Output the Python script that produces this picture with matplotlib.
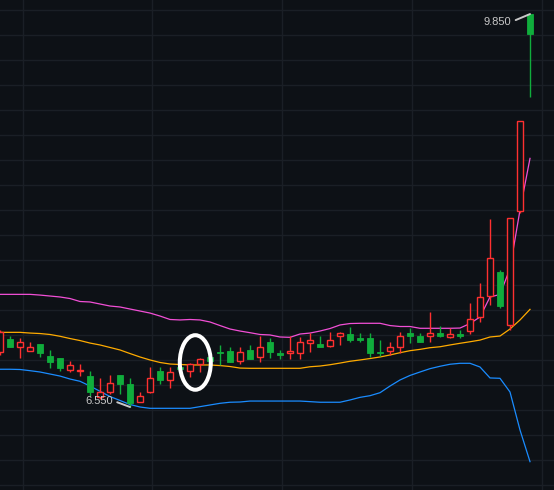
import matplotlib
matplotlib.use("Agg")
import matplotlib.pyplot as plt
from matplotlib.patches import Rectangle, Ellipse
import numpy as np

# ---- data ----
opens = [7.01, 7.12, 7.05, 7.02, 7.08, 6.98, 6.96, 6.86, 6.85, 6.81,
         6.63, 6.68, 6.82, 6.74, 6.59, 6.68, 6.85, 6.78, 6.89, 6.85,
         6.91, 6.97, 7.01, 7.02, 6.94, 7.03, 6.97, 7.10, 7.00, 7.00,
         7.00, 7.09, 7.08, 7.06, 7.15, 7.16, 7.13, 7.13, 7.01, 7.02,
         7.05, 7.17, 7.15, 7.15, 7.17, 7.14, 7.16, 7.19, 7.31, 7.48,
         7.68, 7.24, 8.20, 9.85]
closes = [7.18, 7.05, 7.10, 7.05, 7.00, 6.93, 6.88, 6.90, 6.86, 6.68,
          6.68, 6.75, 6.74, 6.58, 6.64, 6.79, 6.78, 6.84, 6.87, 6.91,
          6.95, 6.94, 7.00, 6.93, 7.01, 6.95, 7.05, 7.01, 6.99, 7.02,
          7.10, 7.11, 7.05, 7.11, 7.17, 7.11, 7.11, 7.00, 7.00, 7.05,
          7.15, 7.15, 7.10, 7.17, 7.15, 7.16, 7.15, 7.29, 7.47, 7.80,
          7.40, 8.14, 8.95, 9.68]
highs = [7.20, 7.15, 7.13, 7.10, 7.08, 7.03, 6.96, 6.94, 6.91, 6.85,
         6.79, 6.82, 6.82, 6.79, 6.68, 6.89, 6.89, 6.89, 6.90, 6.92,
         6.96, 6.97, 7.07, 7.05, 7.05, 7.07, 7.15, 7.13, 7.03, 7.15,
         7.14, 7.17, 7.15, 7.18, 7.18, 7.22, 7.17, 7.17, 7.11, 7.10,
         7.18, 7.21, 7.17, 7.35, 7.23, 7.21, 7.20, 7.42, 7.59, 8.13,
         7.70, 8.14, 8.95, 9.85]
lows = [6.99, 7.05, 6.96, 7.02, 6.97, 6.88, 6.85, 6.84, 6.81, 6.64,
        6.62, 6.66, 6.66, 6.55, 6.59, 6.67, 6.74, 6.71, 6.86, 6.80,
        6.84, 6.94, 6.90, 6.93, 6.91, 6.95, 6.93, 6.96, 6.95, 6.95,
        6.95, 7.01, 7.05, 7.05, 7.07, 7.10, 7.10, 6.97, 6.98, 6.99,
        7.00, 7.09, 7.10, 7.10, 7.14, 7.13, 7.13, 7.16, 7.26, 7.41,
        7.38, 7.20, 8.18, 9.15]

boll_upper = [7.496, 7.496, 7.496, 7.496, 7.490, 7.482, 7.474, 7.461, 7.436, 7.432,
              7.415, 7.398, 7.390, 7.373, 7.356, 7.339, 7.314, 7.285, 7.281, 7.285,
              7.281, 7.264, 7.234, 7.205, 7.188, 7.174, 7.159, 7.155, 7.138, 7.135,
              7.163, 7.171, 7.188, 7.209, 7.239, 7.251, 7.253, 7.253, 7.253, 7.234,
              7.226, 7.226, 7.211, 7.211, 7.211, 7.211, 7.213, 7.251, 7.306, 7.474,
              7.495, 7.713, 8.204, 8.638]
boll_mid = [7.177, 7.177, 7.177, 7.171, 7.167, 7.159, 7.144, 7.125, 7.108, 7.087,
            7.071, 7.050, 7.029, 6.999, 6.970, 6.945, 6.924, 6.911, 6.907, 6.903,
            6.903, 6.903, 6.898, 6.890, 6.877, 6.875, 6.875, 6.875, 6.875, 6.875,
            6.875, 6.888, 6.894, 6.905, 6.919, 6.934, 6.945, 6.957, 6.970, 6.987,
            7.006, 7.023, 7.034, 7.048, 7.056, 7.071, 7.085, 7.098, 7.112, 7.138,
            7.146, 7.205, 7.281, 7.370]
boll_lower = [6.867, 6.867, 6.865, 6.855, 6.844, 6.827, 6.810, 6.785, 6.766, 6.726,
              6.682, 6.638, 6.605, 6.571, 6.550, 6.539, 6.539, 6.539, 6.539, 6.539,
              6.553, 6.567, 6.581, 6.590, 6.592, 6.600, 6.600, 6.600, 6.600, 6.600,
              6.600, 6.595, 6.590, 6.590, 6.590, 6.609, 6.631, 6.645, 6.670, 6.726,
              6.777, 6.815, 6.844, 6.872, 6.892, 6.909, 6.917, 6.917, 6.886, 6.794,
              6.791, 6.676, 6.357, 6.091]

# ---- style ----
BG = "#0d1116"
GRID = "#1a1f26"
UP = "#ff3030"
DOWN = "#10ad3c"
C_UP = "#f24fd6"
C_MID = "#ffab00"
C_LOW = "#1a8cff"
LABEL = "#c8c8c8"

fig = plt.figure(figsize=(5.54, 4.90), dpi=100, facecolor=BG)
ax = fig.add_axes([0, 0, 1, 1])
ax.set_facecolor(BG)

x = np.arange(len(opens))
ax.set_xlim(0, 55.4)
ax.set_ylim(5.853, 9.968)

# grid
for gy in 9.886 - 0.2099 * np.arange(20):
    ax.axhline(gy, color=GRID, lw=1.0, zorder=0)
for gx in 2.25 + 12.975 * np.arange(5):
    ax.axvline(gx, color=GRID, lw=1.0, zorder=0)

# bollinger bands
ax.plot(x, boll_upper, color=C_UP, lw=0.9, zorder=2)
ax.plot(x, boll_mid, color=C_MID, lw=0.9, zorder=2)
ax.plot(x, boll_lower, color=C_LOW, lw=0.9, zorder=2)

# candles
bw = 0.58
for i, (o, h, l, c) in enumerate(zip(opens, highs, lows, closes)):
    top, bot = max(o, c), min(o, c)
    if c >= o:
        col = UP
        ax.vlines(i, top, h, color=col, lw=1.0, zorder=3)
        ax.vlines(i, l, bot, color=col, lw=1.0, zorder=3)
        ax.add_patch(Rectangle((i - bw / 2, bot), bw, max(top - bot, 0.004),
                               facecolor=BG, edgecolor=col, lw=1.0, zorder=4))
    else:
        col = DOWN
        ax.vlines(i, l, h, color=col, lw=1.0, zorder=3)
        ax.add_patch(Rectangle((i - bw / 2, bot), bw, max(top - bot, 0.012),
                               facecolor=col, edgecolor=col, lw=0.6, zorder=4))

# max / min labels
imax = int(np.argmax(highs))
imin = int(np.argmin(lows))
ax.annotate(f"{highs[imax]:.3f}", xy=(imax, highs[imax]), xytext=(-19, -8),
            textcoords="offset pixels", ha="right", va="center",
            fontsize=8, family="Liberation Sans", color=LABEL,
            arrowprops=dict(arrowstyle="-", color=LABEL, lw=1.4,
                            shrinkA=1.5, shrinkB=0, relpos=(1, 0.5)), zorder=6)
ax.annotate(f"{lows[imin]:.3f}", xy=(imin, lows[imin]), xytext=(-17.5, 6.5),
            textcoords="offset pixels", ha="right", va="center",
            fontsize=8, family="Liberation Sans", color=LABEL,
            arrowprops=dict(arrowstyle="-", color=LABEL, lw=1.4,
                            shrinkA=1.5, shrinkB=0, relpos=(1, 0.5)), zorder=6)

# highlight ellipse
ax.add_patch(Ellipse((19.53, 6.924), width=3.1, height=0.458, fill=False,
                     edgecolor="white", lw=2.9, zorder=7))

ax.set_xticks([])
ax.set_yticks([])
for s in ax.spines.values():
    s.set_visible(False)

fig.savefig("out.png", dpi=100, facecolor=BG)
